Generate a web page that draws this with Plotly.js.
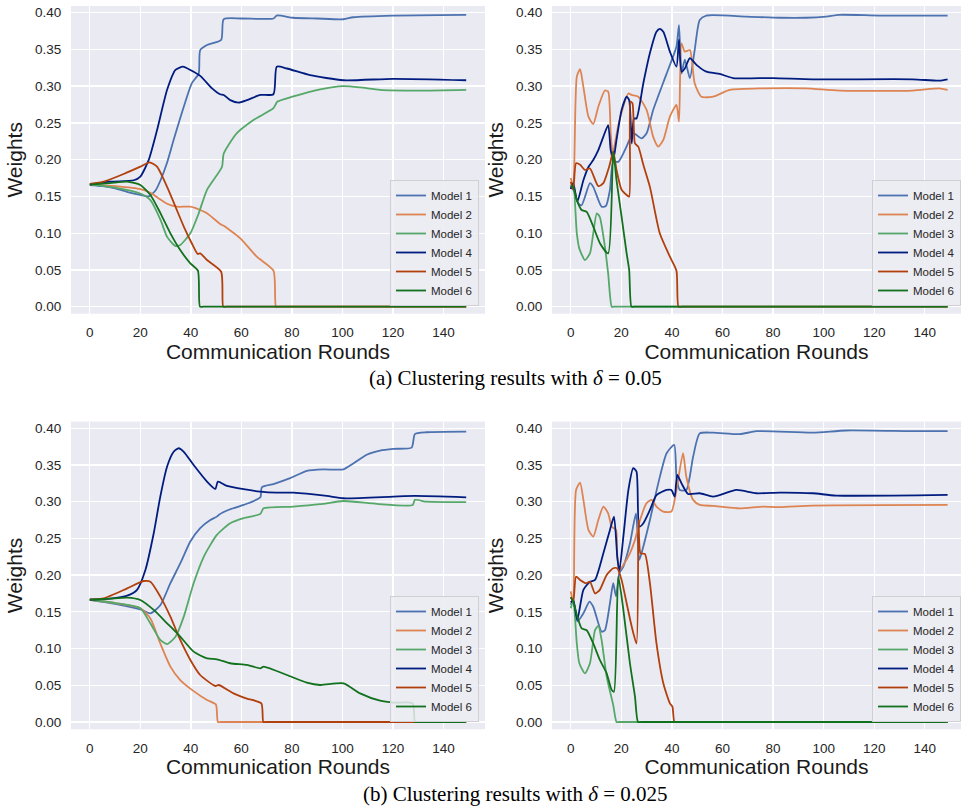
<!DOCTYPE html>
<html><head><meta charset="utf-8">
<script src="https://cdn.plot.ly/plotly-3.0.1.min.js"></script>
<style>html,body{margin:0;padding:0;background:#fff}#chart{width:961px;height:810px}</style>
</head><body><div id="chart"></div>
<script>
// ---------- (a) delta = 0.05, left panel ----------
const aL_M1_r = [0, 5, 10, 15, 20, 23.3, 26, 28, 30.5, 33.2, 37.2, 40.4, 43.1, 43.7, 46.4, 52, 53, 60, 72.7, 74, 80.6, 90, 100.4, 104.3, 120, 149];
const aL_M1_w = [0.1655, 0.164, 0.161, 0.156, 0.152, 0.150, 0.158, 0.172, 0.195, 0.227, 0.272, 0.304, 0.317, 0.349, 0.356, 0.363, 0.391, 0.392, 0.392, 0.396, 0.393, 0.392, 0.391, 0.3937, 0.396, 0.397];
const aL_M2_r = [0, 10, 20, 24, 27, 30.6, 34.5, 39.8, 43.7, 46.4, 51.6, 53, 59.6, 66.1, 72.7, 73.7, 75, 149];
const aL_M2_w = [0.1665, 0.164, 0.160, 0.155, 0.148, 0.140, 0.136, 0.136, 0.1315, 0.127, 0.1125, 0.110, 0.093, 0.068, 0.049, 0, 0, 0];
const aL_M3_r = [0, 10, 20, 24, 28, 30.6, 33.9, 35.8, 39.8, 43.1, 46.4, 52.3, 53, 58.2, 64.8, 72.7, 74.3, 80.6, 91.2, 100.4, 107, 114.9, 130, 149];
const aL_M3_w = [0.1665, 0.162, 0.154, 0.145, 0.118, 0.095, 0.0825, 0.084, 0.0998, 0.127, 0.159, 0.190, 0.208, 0.236, 0.254, 0.270, 0.279, 0.286, 0.2957, 0.300, 0.2984, 0.295, 0.294, 0.295];
const aL_M4_r = [0, 8.2, 17.4, 20, 23.3, 26.6, 30.6, 33.9, 36.9, 39.8, 43.7, 48.4, 51.6, 53, 55.6, 58.9, 62.2, 67.5, 72.7, 74, 78, 87.2, 100.4, 120, 149];
const aL_M4_w = [0.166, 0.170, 0.172, 0.177, 0.1995, 0.240, 0.295, 0.322, 0.3265, 0.322, 0.314, 0.297, 0.289, 0.288, 0.281, 0.2776, 0.281, 0.288, 0.289, 0.3265, 0.324, 0.315, 0.308, 0.310, 0.308];
const aL_M5_r = [0, 5.5, 13.4, 20, 23.7, 26.6, 30.6, 33.9, 37.2, 40.4, 42.7, 43.7, 46.4, 52, 52.8, 54, 149];
const aL_M5_w = [0.167, 0.170, 0.1805, 0.1905, 0.1964, 0.1905, 0.163, 0.136, 0.109, 0.086, 0.0717, 0.0726, 0.0635, 0.0476, 0, 0, 0];
const aL_M6_r = [0, 8, 14.8, 20, 24, 28, 31.9, 35.8, 39.8, 42.8, 43.6, 45, 149];
const aL_M6_w = [0.166, 0.168, 0.170, 0.1655, 0.152, 0.127, 0.0998, 0.077, 0.059, 0.049, 0, 0, 0];

// ---------- (a) delta = 0.05, right panel ----------
const aR_M1_r = [0, 1, 3, 4.3, 7.6, 8.9, 12.2, 13.9, 15.5, 16.8, 18.8, 20.8, 22.1, 24.7, 28, 30, 32.6, 37.9, 41.8, 42.8, 43.8, 45.1, 47.1, 49, 51, 53.6, 69.4, 82.6, 93, 101, 106.2, 122, 149];
const aR_M1_w = [0.165, 0.160, 0.1405, 0.138, 0.168, 0.163, 0.136, 0.137, 0.159, 0.197, 0.197, 0.2086, 0.218, 0.236, 0.229, 0.236, 0.2676, 0.317, 0.354, 0.383, 0.317, 0.336, 0.311, 0.349, 0.390, 0.396, 0.3946, 0.393, 0.393, 0.3946, 0.397, 0.396, 0.396];
const aR_M2_r = [0, 1, 2.4, 3.7, 5, 7, 8.9, 10.9, 13.5, 14.8, 15.8, 16.6, 19, 22.8, 24, 26.7, 30, 32.6, 34.6, 36.6, 39.2, 41.8, 42.8, 43.8, 45.1, 47.1, 49, 51.6, 56.3, 62.8, 76, 93, 106.2, 135.2, 145.7, 149];
const aR_M2_w = [0.175, 0.163, 0.313, 0.323, 0.299, 0.2585, 0.2485, 0.272, 0.294, 0.2925, 0.236, 0.2086, 0.250, 0.290, 0.288, 0.2857, 0.2676, 0.231, 0.2177, 0.2268, 0.2585, 0.2744, 0.2517, 0.358, 0.347, 0.349, 0.304, 0.2857, 0.2857, 0.2948, 0.297, 0.297, 0.2939, 0.294, 0.297, 0.2948];
const aR_M3_r = [0, 1, 2.4, 3.4, 5.6, 7.6, 8.9, 10.3, 11.5, 13.5, 14.8, 16.2, 17, 149];
const aR_M3_w = [0.160, 0.168, 0.0998, 0.079, 0.0635, 0.0726, 0.0998, 0.127, 0.122, 0.0816, 0.045, 0, 0, 0];
const aR_M4_r = [0, 1, 2.6, 5, 7, 8.9, 10.9, 12.9, 14.8, 15.8, 16.8, 18.1, 20.1, 22.1, 23.1, 24.1, 25, 26, 28.7, 31.3, 33.9, 35.2, 36.6, 39.2, 41.8, 42.8, 43.8, 45.1, 47.1, 49.7, 53.6, 58.9, 64.2, 80, 95.7, 135.2, 145.7, 149];
const aR_M4_w = [0.160, 0.168, 0.143, 0.172, 0.190, 0.1995, 0.213, 0.2313, 0.247, 0.213, 0.1995, 0.2268, 0.2676, 0.2857, 0.281, 0.222, 0.256, 0.256, 0.304, 0.345, 0.374, 0.378, 0.374, 0.347, 0.3265, 0.3637, 0.3197, 0.324, 0.338, 0.329, 0.3197, 0.3166, 0.311, 0.311, 0.3093, 0.3093, 0.3075, 0.3093];
const aR_M5_r = [0, 1, 2.1, 3.7, 5.6, 7.6, 10.9, 12.9, 15.2, 16.8, 18.1, 20.1, 22.1, 23.1, 23.6, 24.4, 25.4, 26.7, 28.7, 31.3, 35.2, 39.2, 41.8, 42.6, 44, 149];
const aR_M5_w = [0.170, 0.159, 0.195, 0.193, 0.186, 0.188, 0.164, 0.168, 0.1905, 0.211, 0.186, 0.159, 0.152, 0.1497, 0.279, 0.2766, 0.222, 0.2177, 0.193, 0.163, 0.0998, 0.068, 0.049, 0, 0, 0];
const aR_M6_r = [0, 1, 2.4, 4.3, 6.3, 8.9, 11.6, 14.8, 16.8, 18.1, 20.1, 22.1, 23.1, 24, 25, 149];
const aR_M6_w = [0.165, 0.163, 0.145, 0.1315, 0.129, 0.109, 0.086, 0.0726, 0.211, 0.172, 0.1224, 0.0726, 0.050, 0, 0, 0];

// ---------- (b) delta = 0.025, left panel ----------
const bL_M1_r = [0, 10, 20, 24, 27.9, 31.9, 35.8, 39.8, 43.7, 47.7, 50.3, 51, 55.6, 60.9, 67.5, 68.1, 72.7, 79.3, 85.9, 92.5, 100.4, 104.3, 109.6, 114.9, 120.2, 127.4, 128.7, 133.3, 149];
const bL_M1_w = [0.1665, 0.161, 0.1535, 0.148, 0.159, 0.189, 0.216, 0.2457, 0.264, 0.275, 0.2797, 0.282, 0.2897, 0.2956, 0.306, 0.3197, 0.324, 0.332, 0.342, 0.344, 0.344, 0.352, 0.364, 0.3697, 0.372, 0.3737, 0.392, 0.3946, 0.3955];
const bL_M2_r = [0, 10, 20, 24, 27.9, 31.9, 35.8, 41.1, 46.4, 49.9, 50.7, 52, 149];
const bL_M2_w = [0.1665, 0.162, 0.155, 0.141, 0.107, 0.0754, 0.057, 0.042, 0.030, 0.024, 0, 0, 0];
const bL_M3_r = [0, 10, 20, 24, 27.9, 30.6, 33.9, 37.2, 41.1, 45.1, 50.3, 55.6, 60.9, 67.5, 68.8, 80.6, 91.2, 100.4, 113.6, 127.8, 128.7, 133.3, 149];
const bL_M3_w = [0.1665, 0.162, 0.155, 0.134, 0.1117, 0.106, 0.116, 0.1435, 0.189, 0.225, 0.2548, 0.2707, 0.2775, 0.2834, 0.291, 0.2934, 0.2966, 0.301, 0.297, 0.2956, 0.3025, 0.300, 0.2993];
const bL_M4_r = [0, 8, 14.8, 18.7, 22, 25.3, 27.9, 30.6, 33.2, 35.2, 37.2, 41.1, 46.4, 49.7, 50.7, 54.3, 60.9, 67.5, 74, 80.6, 93.8, 100.4, 120.2, 128.7, 149];
const bL_M4_w = [0.1665, 0.168, 0.172, 0.18, 0.207, 0.257, 0.307, 0.348, 0.368, 0.3728, 0.368, 0.350, 0.3274, 0.3174, 0.3274, 0.3215, 0.317, 0.3138, 0.3124, 0.3124, 0.3079, 0.3047, 0.307, 0.3079, 0.306];
const bL_M5_r = [0, 5.5, 14.8, 21.3, 24, 27.9, 31.9, 35.8, 39.8, 43.7, 49.7, 51, 56.9, 62.2, 67.9, 68.7, 70, 149];
const bL_M5_w = [0.167, 0.1685, 0.182, 0.192, 0.191, 0.1708, 0.1435, 0.1117, 0.0845, 0.064, 0.049, 0.0504, 0.039, 0.0318, 0.0254, 0, 0, 0];
const bL_M6_r = [0, 8, 14.8, 20, 25.3, 30.6, 35.8, 41.1, 46.4, 50.3, 55.6, 62.2, 67.5, 68.8, 78, 85.9, 91.2, 100.4, 107, 114.9, 120.2, 127.8, 128.7, 130, 149];
const bL_M6_w = [0.1665, 0.168, 0.1694, 0.1662, 0.1526, 0.1344, 0.1163, 0.0958, 0.0867, 0.0854, 0.080, 0.0777, 0.0731, 0.0754, 0.064, 0.0536, 0.0504, 0.0527, 0.039, 0.029, 0.0263, 0.0254, 0, 0, 0];

// ---------- (b) delta = 0.025, right panel ----------
const bR_M1_r = [0, 1, 2.6, 5, 7.4, 8.9, 12.2, 13.5, 15.5, 16.8, 17.9, 19.2, 20.8, 23.4, 25.8, 27.1, 28.7, 31.3, 34.6, 37.9, 40.9, 41.8, 43.1, 45.7, 48.4, 51, 56.3, 66.8, 73.4, 95.7, 108.9, 135.2, 149];
const bR_M1_w = [0.160, 0.166, 0.137, 0.148, 0.164, 0.157, 0.123, 0.125, 0.1617, 0.189, 0.171, 0.2025, 0.2116, 0.243, 0.284, 0.2207, 0.239, 0.275, 0.325, 0.366, 0.3774, 0.334, 0.316, 0.316, 0.3615, 0.393, 0.394, 0.392, 0.396, 0.394, 0.397, 0.396, 0.396];
const bR_M2_r = [0, 1, 2.1, 3.7, 5, 7, 8.9, 10.9, 12.9, 14.8, 16.2, 17.9, 18.4, 19.2, 20.8, 23.4, 25.4, 27.4, 30, 32, 33.9, 36.6, 39.8, 41.8, 44.4, 45.7, 48.4, 51, 56.3, 66.8, 76, 82.6, 95.7, 149];
const bR_M2_w = [0.178, 0.1617, 0.316, 0.326, 0.3025, 0.2616, 0.2525, 0.275, 0.2934, 0.284, 0.266, 0.2616, 0.225, 0.207, 0.214, 0.2298, 0.248, 0.275, 0.298, 0.3025, 0.2934, 0.2866, 0.2866, 0.316, 0.366, 0.334, 0.3025, 0.2956, 0.2943, 0.291, 0.2934, 0.2925, 0.2947, 0.2956];
const bR_M3_r = [0, 1, 2.4, 3.4, 5.6, 7.6, 9.6, 10.9, 12.2, 14.2, 16.8, 18.1, 19, 149];
const bR_M3_w = [0.155, 0.166, 0.107, 0.080, 0.0663, 0.080, 0.125, 0.131, 0.1117, 0.0618, 0.023, 0, 0, 0];
const bR_M4_r = [0, 1, 2.6, 5, 7.6, 9.6, 12.9, 15.5, 17.1, 18.4, 19.2, 20.8, 22.8, 24.7, 26, 27.1, 28.7, 31.3, 33.9, 37.9, 39.8, 41.1, 42.1, 43.8, 46.4, 51, 56.3, 65.5, 73.4, 82.6, 95.7, 104.9, 149];
const bR_M4_w = [0.163, 0.166, 0.139, 0.180, 0.191, 0.1935, 0.2298, 0.2616, 0.2797, 0.225, 0.2048, 0.2525, 0.316, 0.3456, 0.341, 0.266, 0.2707, 0.2888, 0.309, 0.316, 0.316, 0.307, 0.3365, 0.325, 0.3106, 0.3115, 0.307, 0.316, 0.3115, 0.3124, 0.3115, 0.3084, 0.3093];
const bR_M5_r = [0, 1, 2.1, 3.7, 6, 7.6, 9.6, 11.5, 14.2, 16.8, 18.4, 20.1, 22.1, 24.1, 26, 26.8, 27.6, 29.3, 31.3, 33.9, 36.6, 39.2, 40.2, 41, 42.5, 149];
const bR_M5_w = [0.170, 0.164, 0.198, 0.1935, 0.189, 0.191, 0.175, 0.180, 0.2003, 0.2094, 0.2094, 0.1935, 0.1617, 0.130, 0.107, 0.275, 0.2298, 0.2289, 0.189, 0.107, 0.0527, 0.0254, 0.021, 0, 0, 0];
const bR_M6_r = [0, 1, 2.6, 4.3, 6.3, 8.9, 11.5, 14.2, 16.2, 17.1, 18.8, 20.8, 23.4, 25.4, 26.6, 28, 149];
const bR_M6_w = [0.170, 0.164, 0.1435, 0.1276, 0.125, 0.107, 0.0845, 0.0663, 0.0436, 0.0413, 0.198, 0.1526, 0.080, 0.0345, 0, 0, 0];

// ---------- labels ----------
const modelNames = ['Model 1', 'Model 2', 'Model 3', 'Model 4', 'Model 5', 'Model 6'];
const modelColors = ['#4C72B0', '#DD8452', '#55A868', '#001C7F', '#B1400D', '#12711C'];
const xTickVals = [0, 20, 40, 60, 80, 100, 120, 140];
const yTickVals = [0, 0.05, 0.10, 0.15, 0.20, 0.25, 0.30, 0.35, 0.40];
const xTitle = 'Communication Rounds';
const yTitle = 'Weights';
const captionA = '(a) Clustering results with <i>δ</i> = 0.05';
const captionB = '(b) Clustering results with <i>δ</i> = 0.025';

const panels = [
  {x: 'x',  y: 'y',  legend: 'legend',  data: [[aL_M1_r, aL_M1_w], [aL_M2_r, aL_M2_w], [aL_M3_r, aL_M3_w], [aL_M4_r, aL_M4_w], [aL_M5_r, aL_M5_w], [aL_M6_r, aL_M6_w]]},
  {x: 'x2', y: 'y2', legend: 'legend2', data: [[aR_M1_r, aR_M1_w], [aR_M2_r, aR_M2_w], [aR_M3_r, aR_M3_w], [aR_M4_r, aR_M4_w], [aR_M5_r, aR_M5_w], [aR_M6_r, aR_M6_w]]},
  {x: 'x3', y: 'y3', legend: 'legend3', data: [[bL_M1_r, bL_M1_w], [bL_M2_r, bL_M2_w], [bL_M3_r, bL_M3_w], [bL_M4_r, bL_M4_w], [bL_M5_r, bL_M5_w], [bL_M6_r, bL_M6_w]]},
  {x: 'x4', y: 'y4', legend: 'legend4', data: [[bR_M1_r, bR_M1_w], [bR_M2_r, bR_M2_w], [bR_M3_r, bR_M3_w], [bR_M4_r, bR_M4_w], [bR_M5_r, bR_M5_w], [bR_M6_r, bR_M6_w]]}
];

const traces = [];
panels.forEach(p => {
  p.data.forEach((d, i) => {
    traces.push({
      type: 'scatter', mode: 'lines', x: d[0], y: d[1], name: modelNames[i],
      xaxis: p.x, yaxis: p.y, legend: p.legend,
      line: {color: modelColors[i], width: 1.8, shape: 'spline', smoothing: 0.6},
      hoverinfo: 'skip'
    });
  });
});

const W = 961, H = 810;
const FONT = 'Liberation Sans, Arial, sans-serif';
const TXT = '#262626';
function xdom(a, b) { return [a / W, b / W]; }
function ydom(top, bottom) { return [1 - bottom / H, 1 - top / H]; }

function xAxis(dom, range, anchor) {
  return {
    domain: dom, range: range, anchor: anchor, tickmode: 'array', tickvals: xTickVals,
    showgrid: true, gridcolor: '#ffffff', gridwidth: 1.3, zeroline: false, showline: false,
    ticks: 'outside', ticklen: 6, tickcolor: 'rgba(0,0,0,0)',
    tickfont: {family: FONT, size: 13.5, color: TXT},
    title: {text: xTitle, font: {family: FONT, size: 21, color: '#1a1a1a'}, standoff: 4}
  };
}
function yAxis(dom, range, anchor) {
  return {
    domain: dom, range: range, anchor: anchor, tickmode: 'array', tickvals: yTickVals, tickformat: '.2f',
    showgrid: true, gridcolor: '#ffffff', gridwidth: 1.3, zeroline: false, showline: false,
    ticks: 'outside', ticklen: 6, tickcolor: 'rgba(0,0,0,0)',
    tickfont: {family: FONT, size: 13.5, color: TXT},
    title: {text: yTitle, font: {family: FONT, size: 21, color: '#1a1a1a'}, standoff: 6}
  };
}
function legendAt(xr, yb) {
  return {
    x: xr / W, xanchor: 'right', y: 1 - yb / H, yanchor: 'bottom',
    bgcolor: 'rgba(236,236,243,0.85)', bordercolor: '#cfcfd4', borderwidth: 1,
    font: {family: FONT, size: 11.5, color: TXT}
  };
}

const topDom = ydom(6, 313.7), botDom = ydom(421.6, 729.3);
const layout = {
  width: W, height: H, autosize: false,
  margin: {l: 0, r: 0, t: 0, b: 0},
  paper_bgcolor: '#ffffff', plot_bgcolor: '#EAEAF2',
  showlegend: true,
  xaxis: xAxis(xdom(71, 485), [-7.45, 156.45], 'y'),
  yaxis: yAxis(topDom, [-0.0095, 0.409], 'x'),
  xaxis2: xAxis(xdom(551.9, 961), [-7.45, 154.3], 'y2'),
  yaxis2: yAxis(topDom, [-0.0095, 0.409], 'x2'),
  xaxis3: xAxis(xdom(71, 485), [-7.45, 156.45], 'y3'),
  yaxis3: yAxis(botDom, [-0.00995, 0.4091], 'x3'),
  xaxis4: xAxis(xdom(551.9, 961), [-7.45, 154.3], 'y4'),
  yaxis4: yAxis(botDom, [-0.00995, 0.4091], 'x4'),
  legend: legendAt(479, 306),
  legend2: legendAt(961, 306),
  legend3: legendAt(479, 722),
  legend4: legendAt(961, 722),
  annotations: [
    {text: captionA, xref: 'paper', yref: 'paper', x: 515 / W, y: 1 - 378 / H, xanchor: 'center', yanchor: 'middle', showarrow: false,
     font: {family: 'Liberation Serif, Times New Roman, serif', size: 21, color: '#000000'}},
    {text: captionB, xref: 'paper', yref: 'paper', x: 515 / W, y: 1 - 794 / H, xanchor: 'center', yanchor: 'middle', showarrow: false,
     font: {family: 'Liberation Serif, Times New Roman, serif', size: 21, color: '#000000'}}
  ]
};

Plotly.newPlot('chart', traces, layout, {staticPlot: true, displayModeBar: false});
</script>
</body></html>
